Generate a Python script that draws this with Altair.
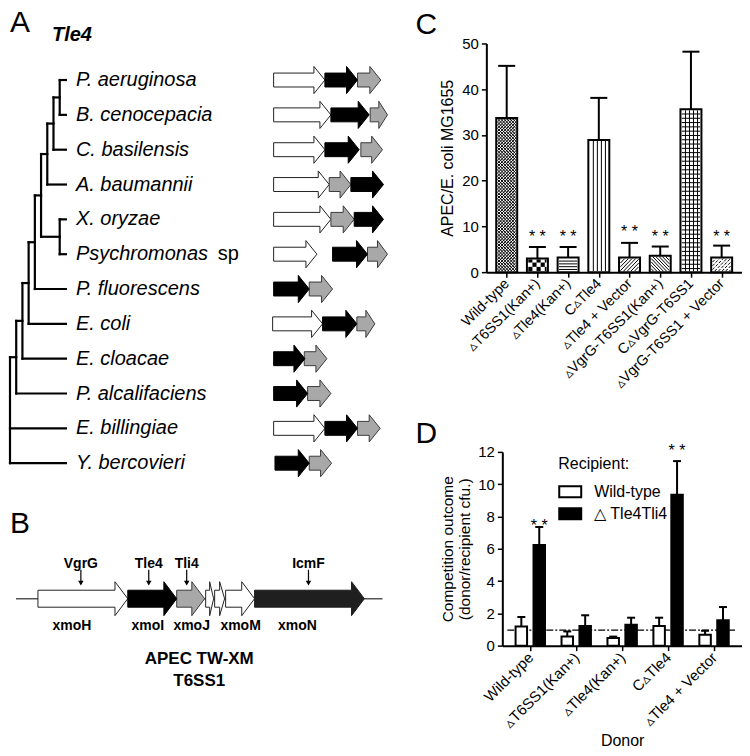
import json
import math
import altair as alt
import pandas as pd

FONT = "Liberation Sans"

# ---------------- Panel A data: Tle4 phylogeny and gene neighbourhoods ----------------
species = ["P. aeruginosa", "B. cenocepacia", "C. basilensis", "A. baumannii", "X. oryzae",
           "Psychromonas sp", "P. fluorescens", "E. coli", "E. cloacae", "P. alcalifaciens",
           "E. billingiae", "Y. bercovieri"]
node_names = ["n8", "n7", "n6", "n9", "n5", "n4", "n3", "n2", "n1", "root"]
node_depths = [8, 7, 6, 8, 5, 4, 3, 2, 1, 0]
node_children = [
    ["P. aeruginosa", "B. cenocepacia"],
    ["n8", "C. basilensis"],
    ["n7", "A. baumannii"],
    ["X. oryzae", "Psychromonas sp"],
    ["n6", "n9"],
    ["n5", "P. fluorescens"],
    ["n4", "E. coli"],
    ["n3", "E. cloacae"],
    ["n2", "P. alcalifaciens"],
    ["n1", "E. billingiae", "Y. bercovieri"],
]
LEAF_DEPTH = 9

arrow_species = (["P. aeruginosa"] * 3 + ["B. cenocepacia"] * 3 + ["C. basilensis"] * 3 +
                 ["A. baumannii"] * 3 + ["X. oryzae"] * 3 + ["Psychromonas sp"] * 3 +
                 ["P. fluorescens"] * 2 + ["E. coli"] * 3 + ["E. cloacae"] * 2 +
                 ["P. alcalifaciens"] * 2 + ["E. billingiae"] * 3 + ["Y. bercovieri"] * 2)
arrow_start = [0, 1540, 2520, 0, 1720, 2900, 0, 1540, 2620, 0, 1670, 2320, 0, 1720, 2420,
               0, 1770, 2820, 0, 1070, -30, 1470, 2500, 0, 920, 0, 1020, 0, 1540, 2520, 40, 1070]
arrow_end = [1540, 2520, 3220, 1720, 2870, 3420, 1540, 2570, 3270, 1670, 2320, 3300, 1720, 2420, 3300,
             1300, 2820, 3420, 1070, 1770, 1470, 2500, 3040, 940, 1600, 1020, 1720, 1540, 2520, 3200, 1070, 1740]
arrow_gene = ["other", "tle4", "tli4", "other", "tle4", "tli4", "other", "tle4", "tli4",
              "other", "tli4", "tle4", "other", "tli4", "tle4", "other", "tle4", "tli4",
              "tle4", "tli4", "other", "tle4", "tli4", "tle4", "tli4", "tle4", "tli4",
              "other", "tle4", "tli4", "tle4", "tli4"]

# ---------------- Panel B data: APEC TW-XM T6SS1 locus ----------------
b_backbone = [0, 12850]
b_start = [770, 3920, 5635, 6650, 6965, 7350, 8365]
b_end = [3920, 5635, 6615, 6930, 7315, 8365, 12215]
b_gene = ["other", "tle4", "tli4", "other", "other", "other", "icmf"]
b_names = ["xmoH", "xmoI", "xmoJ", "xmoM", "xmoN"]
b_name_x = [1960, 4620, 6160, 7875, 9870]
b_markers = ["VgrG", "Tle4", "Tli4", "IcmF"]
b_marker_x = [2275, 4655, 5985, 10255]
b_title = ["APEC TW-XM", "T6SS1"]

# ---------------- Panel C data ----------------
c_strains = ["Wild-type", "\u25b5T6SS1(Kan+)", "\u25b5Tle4(Kan+)", "C\u25b5Tle4", "\u25b5Tle4 + Vector",
             "\u25b5VgrG-T6SS1(Kan+)", "C\u25b5VgrG-T6SS1", "\u25b5VgrG-T6SS1 + Vector"]
c_mean = [33.7, 3.0, 3.2, 28.9, 3.2, 3.6, 35.6, 3.2]
c_err = [11.4, 2.5, 2.3, 9.2, 3.2, 2.0, 12.6, 2.6]
c_star = ["", "* *", "* *", "", "* *", "* *", "", "* *"]
c_star_y = [None, 8.6, 8.6, None, 9.7, 8.6, None, 8.6]
C_YMAX = 50

# ---------------- Panel D data ----------------
d_donors = ["Wild-type", "\u25b5T6SS1(Kan+)", "\u25b5Tle4(Kan+)", "C\u25b5Tle4", "\u25b5Tle4 + Vector"]
d_recipients = ["Wild-type", "\u25b3 Tle4Tli4"]
d_wt_mean = [1.19, 0.57, 0.47, 1.22, 0.67]
d_wt_err = [0.59, 0.31, 0.09, 0.51, 0.25]
d_ko_mean = [6.23, 1.22, 1.29, 9.35, 1.57]
d_ko_err = [1.12, 0.66, 0.44, 2.08, 0.82]
d_star = ["* *", "", "", "* *", ""]
d_star_y = [7.65, None, None, 12.35, None]
d_ref_line = 0.96
D_YMAX = 12

# ---------------- layout / style ----------------
WA, HA = 376, 436
WB, HB = 376, 150
WC, HC = 256, 229
WD, HD = 256, 194
D_X0 = 16

GENE_FILL = {"other": "white", "tle4": "black", "tli4": "#a8a8a8", "icmf": "#1f1f1f"}
GENE_STROKE = {"other": "#222222", "tle4": "black", "tli4": "#3a3a3a", "icmf": "#1f1f1f"}


def panel_title(letter, dx=0, dy=0):
    return alt.TitleParams(text=letter, anchor="start", frame="group", fontSize=30, baseline="top",
                           fontWeight="normal", font=FONT, color="black", dx=dx, dy=dy, offset=0)


def arrow_polygon(start, end, yc, body, head, head_len):
    hl = min(head_len, 0.5 * (end - start))
    hs = end - hl
    return [(start, yc - body), (hs, yc - body), (hs, yc - head), (end, yc),
            (hs, yc + head), (hs, yc + body), (start, yc + body)]


def gene_layers(df, xscale, yscale):
    out = []
    for g in ["other", "tli4", "tle4", "icmf"]:
        sub = df[df["gene"] == g]
        if len(sub) == 0:
            continue
        out.append(alt.Chart(sub).mark_line(
            interpolate="linear-closed", fill=GENE_FILL[g], stroke=GENE_STROKE[g],
            strokeWidth=1, strokeJoin="miter").encode(
            x=alt.X("x:Q", scale=xscale, axis=None),
            y=alt.Y("y:Q", scale=yscale, axis=None),
            detail="id:N", order="v:Q"))
    return out


# ================= Panel A =================
row_of = {s: i for i, s in enumerate(species)}
depth_of = {s: LEAF_DEPTH for s in species}
y_of = dict(row_of)
for n, d, ch in zip(node_names, node_depths, node_children):
    depth_of[n] = d
    ys = [y_of[c] for c in ch]
    y_of[n] = (min(ys) + max(ys)) / 2.0
segs = []
for n, d, ch in zip(node_names, node_depths, node_children):
    ys = [y_of[c] for c in ch]
    segs.append({"x": d, "x2": d, "y": min(ys), "y2": max(ys)})
    for c in ch:
        segs.append({"x": d, "x2": depth_of[c], "y": y_of[c], "y2": y_of[c]})
tree_df = pd.DataFrame(segs)

XT = alt.Scale(domain=[0, LEAF_DEPTH], range=[0, 56], nice=False, zero=False)
YA = alt.Scale(domain=[-1.05, 11.45], reverse=True, nice=False, zero=False)
XG = alt.Scale(domain=[0, 3300], range=[264, 374], nice=False, zero=False)

tree = alt.Chart(tree_df).mark_rule(strokeWidth=2.2, color="black", strokeCap="square").encode(
    x=alt.X("x:Q", scale=XT, axis=None), x2="x2:Q",
    y=alt.Y("y:Q", scale=YA, axis=None), y2="y2:Q")

lab_df = pd.DataFrame({
    "name": [s[:-3] if s.endswith(" sp") else s for s in species],
    "row": list(range(len(species))),
    "depth": [LEAF_DEPTH] * len(species)})
leaf_labels = alt.Chart(lab_df).mark_text(
    align="left", baseline="middle", dx=10, fontSize=20, fontStyle="italic", font=FONT, color="black").encode(
    x=alt.X("depth:Q", scale=XT, axis=None), y=alt.Y("row:Q", scale=YA, axis=None), text="name:N")

sp_df = pd.DataFrame({
    "t": ["sp" for s in species if s.endswith(" sp")],
    "row": [row_of[s] for s in species if s.endswith(" sp")],
    "depth": [LEAF_DEPTH for s in species if s.endswith(" sp")]})
sp_labels = alt.Chart(sp_df).mark_text(
    align="left", baseline="middle", dx=152, fontSize=20, font=FONT, color="black").encode(
    x=alt.X("depth:Q", scale=XT, axis=None), y=alt.Y("row:Q", scale=YA, axis=None), text="t:N")

head_df = pd.DataFrame({"t": ["Tle4"]})
tle4_head = alt.Chart(head_df).mark_text(
    align="left", baseline="alphabetic", fontSize=20, fontWeight="bold", fontStyle="italic",
    font=FONT, color="black").encode(x=alt.value(42), y=alt.value(-2), text="t:N")

poly_rows = []
for k, (sp, a, b, g) in enumerate(zip(arrow_species, arrow_start, arrow_end, arrow_gene)):
    for v, (px, py) in enumerate(arrow_polygon(a, b, row_of[sp], 0.2, 0.39, 330)):
        poly_rows.append({"id": k, "v": v, "x": px, "y": py, "gene": g})
polyA = pd.DataFrame(poly_rows)

A = alt.layer(tree, leaf_labels, sp_labels, tle4_head, *gene_layers(polyA, XG, YA)).resolve_scale(
    x="independent").properties(width=WA, height=HA, title=panel_title("A", dy=13))

# ================= Panel B =================
LABEL_Y, ARROW_TOP, ARROW_BOT, LINE_Y, NAME_Y, TITLE_Y1, TITLE_Y2 = 15, 21, 37, 50, 77, 110, 132
XB = alt.Scale(domain=b_backbone, range=[6, 373], nice=False, zero=False)
YB = alt.Scale(domain=[0, HB], reverse=True, nice=False, zero=False)

backbone = alt.Chart(pd.DataFrame({"x": [b_backbone[0]], "x2": [b_backbone[1]], "y": [LINE_Y]})).mark_rule(
    strokeWidth=1.5, color="#555555").encode(
    x=alt.X("x:Q", scale=XB, axis=None), x2="x2:Q", y=alt.Y("y:Q", scale=YB, axis=None))

poly_rows = []
for k, (a, b, g) in enumerate(zip(b_start, b_end, b_gene)):
    for v, (px, py) in enumerate(arrow_polygon(a, b, LINE_Y, 8.5, 17, 450)):
        poly_rows.append({"id": k, "v": v, "x": px, "y": py, "gene": g})
polyB = pd.DataFrame(poly_rows)

mk_df = pd.DataFrame({"t": b_markers, "x": b_marker_x, "y": [LABEL_Y] * len(b_markers),
                      "ya": [ARROW_TOP] * len(b_markers), "yb": [ARROW_BOT - 4] * len(b_markers),
                      "yt": [ARROW_BOT - 2.5] * len(b_markers)})
mk_text = alt.Chart(mk_df).mark_text(fontSize=14, fontWeight="bold", font=FONT, baseline="middle", color="black").encode(
    x=alt.X("x:Q", scale=XB, axis=None), y=alt.Y("y:Q", scale=YB, axis=None), text="t:N")
mk_stem = alt.Chart(mk_df).mark_rule(strokeWidth=1.2, color="black").encode(
    x=alt.X("x:Q", scale=XB, axis=None), y=alt.Y("ya:Q", scale=YB, axis=None), y2="yb:Q")
mk_head = alt.Chart(mk_df).mark_point(shape="triangle-down", filled=True, size=30, color="black", opacity=1).encode(
    x=alt.X("x:Q", scale=XB, axis=None), y=alt.Y("yt:Q", scale=YB, axis=None))

nm_df = pd.DataFrame({"t": b_names, "x": b_name_x, "y": [NAME_Y] * len(b_names)})
nm_text = alt.Chart(nm_df).mark_text(fontSize=14, fontWeight="bold", font=FONT, baseline="middle", color="black").encode(
    x=alt.X("x:Q", scale=XB, axis=None), y=alt.Y("y:Q", scale=YB, axis=None), text="t:N")

tt_df = pd.DataFrame({"t": b_title, "x": [sum(b_backbone) / 2] * 2, "y": [TITLE_Y1, TITLE_Y2]})
tt_text = alt.Chart(tt_df).mark_text(fontSize=17, fontWeight="bold", font=FONT, baseline="middle", color="black").encode(
    x=alt.X("x:Q", scale=XB, axis=None), y=alt.Y("y:Q", scale=YB, axis=None), text="t:N")

B = alt.layer(backbone, *gene_layers(polyB, XB, YB), mk_stem, mk_head, mk_text, nm_text, tt_text).properties(
    width=WB, height=HB, title=panel_title("B", dy=-10))

# ================= Panel C =================
C_PATTERNS = ["dense", "checker", "hlines", "vlines", "fdiag", "bdiag", "grid", "fdiag_dash"]
nC = len(c_strains)
pxx_c = WC / nC
pxy_c = HC / C_YMAX
BW_C = 21


def hatch(kind, x0, x1, y0, y1):
    lines, cells = [], []

    def hl(s):
        y = y0 + s * 0.6
        while y < y1 - 0.3:
            lines.append((x0, y, x1, y))
            y += s

    def vl(s):
        x = x0 + s * 0.9
        while x < x1 - 0.5:
            lines.append((x, y0, x, y1))
            x += s

    def fd(s):
        d = math.floor((x0 - y1) / s) * s
        while d < x1 - y0:
            lo, hi = max(x0, y0 + d), min(x1, y1 + d)
            if hi - lo > 0.3:
                lines.append((lo, lo - d, hi, hi - d))
            d += s

    def bd(s):
        d = math.floor((x0 + y0) / s) * s
        while d < x1 + y1:
            lo, hi = max(x0, d - y1), min(x1, d - y0)
            if hi - lo > 0.3:
                lines.append((lo, d - lo, hi, d - hi))
            d += s

    if kind == "dense":
        fd(3.2)
        bd(3.2)
    elif kind == "hlines":
        hl(2.8)
    elif kind == "vlines":
        vl(4.2)
    elif kind in ("fdiag", "fdiag_dash"):
        fd(3.8)
    elif kind == "bdiag":
        bd(3.4)
    elif kind == "grid":
        vl(4.2)
        hl(4.3)
    elif kind == "checker":
        q = 4.3
        r = 0
        while y0 + r * q < y1:
            c = 0
            while x0 + c * q < x1:
                if (r + c) % 2 == 0:
                    cells.append((x0 + c * q, y0 + r * q, min(x1, x0 + (c + 1) * q), min(y1, y0 + (r + 1) * q)))
                c += 1
            r += 1
    return lines, cells


h_rows, h_cells = [], []
for i, (m, kind) in enumerate(zip(c_mean, C_PATTERNS)):
    cx = (i + 0.5) * pxx_c
    x0, x1 = cx - BW_C / 2 + 1, cx + BW_C / 2 - 1
    y0, y1 = 1, m * pxy_c - 1
    ls, cs = hatch(kind, x0, x1, y0, y1)
    for (a, b, c, d) in ls:
        h_rows.append({"x": a / pxx_c, "y": b / pxy_c, "x2": c / pxx_c, "y2": d / pxy_c,
                       "dash": kind == "fdiag_dash"})
    for (a, b, c, d) in cs:
        h_cells.append({"x": a / pxx_c, "y": b / pxy_c, "x2": c / pxx_c, "y2": d / pxy_c})
hatch_df = pd.DataFrame(h_rows)
cell_df = pd.DataFrame(h_cells)

c_x = [i + 0.5 for i in range(nC)]
c_df = pd.DataFrame({"strain": c_strains, "x": c_x, "mean": c_mean,
                     "top": [m + e for m, e in zip(c_mean, c_err)]})
FS_STAR = 16
star_rows = [{"x": x, "t": t, "y": sy - 0.58 * FS_STAR / pxy_c}
             for x, t, sy in zip(c_x, c_star, c_star_y) if t]
c_star_df = pd.DataFrame(star_rows)

XC = alt.Scale(domain=[0, nC], nice=False, zero=False)
YC = alt.Scale(domain=[0, C_YMAX], nice=False)
labels_c = json.dumps(c_strains, ensure_ascii=False)
AX_XC = alt.Axis(values=c_x, labelExpr=labels_c + "[floor(datum.value)]", title=None, labelAngle=315,
                 labelAlign="right", labelBaseline="middle", labelFontSize=14.5, grid=False, labelPadding=4,
                 labelOverlap=False, labelBound=False)
AX_YC = alt.Axis(values=[0, 10, 20, 30, 40, 50], title="APEC/E. coli MG1655", grid=False,
                 titlePadding=6, labelOverlap=False, titleFontSize=16)

c_fill = alt.Chart(c_df).mark_bar(size=BW_C, fill="white").encode(
    x=alt.X("x:Q", scale=XC, axis=AX_XC), y=alt.Y("mean:Q", scale=YC, axis=AX_YC))
c_hatch_solid = alt.Chart(hatch_df[~hatch_df["dash"]]).mark_rule(strokeWidth=1, color="black").encode(
    x=alt.X("x:Q", scale=XC, axis=AX_XC), x2="x2:Q", y=alt.Y("y:Q", scale=YC, axis=AX_YC), y2="y2:Q")
c_hatch_dash = alt.Chart(hatch_df[hatch_df["dash"]]).mark_rule(strokeWidth=1, color="black", strokeDash=[3, 1.5]).encode(
    x=alt.X("x:Q", scale=XC, axis=AX_XC), x2="x2:Q", y=alt.Y("y:Q", scale=YC, axis=AX_YC), y2="y2:Q")
c_cells = alt.Chart(cell_df).mark_rect(color="black").encode(
    x=alt.X("x:Q", scale=XC, axis=AX_XC), x2="x2:Q", y=alt.Y("y:Q", scale=YC, axis=AX_YC), y2="y2:Q")
c_outline = alt.Chart(c_df).mark_bar(size=BW_C, fill="transparent", stroke="black", strokeWidth=2).encode(
    x=alt.X("x:Q", scale=XC, axis=AX_XC), y=alt.Y("mean:Q", scale=YC, axis=AX_YC))
c_stem = alt.Chart(c_df).mark_rule(strokeWidth=2, color="black").encode(
    x=alt.X("x:Q", scale=XC, axis=AX_XC), y=alt.Y("mean:Q", scale=YC, axis=AX_YC), y2="top:Q")
c_cap = alt.Chart(c_df).mark_tick(orient="horizontal", size=17, thickness=2, color="black", opacity=1).encode(
    x=alt.X("x:Q", scale=XC, axis=AX_XC), y=alt.Y("top:Q", scale=YC, axis=AX_YC))
c_stars = alt.Chart(c_star_df).mark_text(fontSize=FS_STAR, font=FONT, baseline="alphabetic", color="black").encode(
    x=alt.X("x:Q", scale=XC, axis=AX_XC), y=alt.Y("y:Q", scale=YC, axis=AX_YC), text="t:N")

C = alt.layer(c_fill, c_hatch_solid, c_hatch_dash, c_cells, c_outline, c_stem, c_cap, c_stars).properties(
    width=WC, height=HC, title=panel_title("C", dx=-71, dy=4))

# ================= Panel D =================
nD = len(d_donors)
pxy_d = HD / D_YMAX
OFF = 0.195
d_rows = []
for i in range(nD):
    d_rows.append({"x": i + 0.5 - OFF, "mean": d_wt_mean[i], "top": d_wt_mean[i] + d_wt_err[i],
                   "recipient": d_recipients[0]})
    d_rows.append({"x": i + 0.5 + OFF, "mean": d_ko_mean[i], "top": d_ko_mean[i] + d_ko_err[i],
                   "recipient": d_recipients[1]})
d_df = pd.DataFrame(d_rows)
d_star_df = pd.DataFrame([{"x": i + 0.5 + OFF, "t": t, "y": sy - 0.58 * FS_STAR / pxy_d}
                          for i, (t, sy) in enumerate(zip(d_star, d_star_y)) if t])
ref_df = pd.DataFrame({"x": [0], "x2": [nD], "y": [d_ref_line]})

d_x = [i + 0.5 for i in range(nD)]
XD = alt.Scale(domain=[0, nD], range=[D_X0, WD], nice=False, zero=False)
YD = alt.Scale(domain=[0, D_YMAX], nice=False)
labels_d = json.dumps(d_donors, ensure_ascii=False)
AX_XD = alt.Axis(values=d_x, labelExpr=labels_d + "[floor(datum.value)]", title="Donor", labelAngle=315,
                 labelAlign="right", labelBaseline="middle", labelFontSize=15, grid=False, labelPadding=4,
                 titleFontSize=16, titlePadding=2, labelOverlap=False, labelBound=False)
AX_YD = alt.Axis(values=[0, 2, 4, 6, 8, 10, 12], title=["Competition outcome", "(donor/recipient cfu.)"],
                 grid=False, offset=-D_X0, titlePadding=5, titleFontSize=15.5, labelOverlap=False)

d_bars = alt.Chart(d_df).mark_bar(size=11.5, stroke="black", strokeWidth=2).encode(
    x=alt.X("x:Q", scale=XD, axis=AX_XD), y=alt.Y("mean:Q", scale=YD, axis=AX_YD),
    fill=alt.Fill("recipient:N", scale=alt.Scale(domain=d_recipients, range=["white", "black"]),
                  legend=alt.Legend(title="Recipient:", orient="none", legendX=72, legendY=4, padding=0,
                                    titleFontSize=16, titleFontWeight="normal", titleFont=FONT,
                                    titleColor="black", labelFontSize=16, labelFont=FONT, labelColor="black",
                                    symbolType="M-1,-0.5L1,-0.5L1,0.5L-1,0.5Z", symbolSize=484,
                                    symbolStrokeColor="black", symbolStrokeWidth=2, labelOffset=12,
                                    rowPadding=0, titlePadding=8)))
d_stem = alt.Chart(d_df).mark_rule(strokeWidth=2, color="black").encode(
    x=alt.X("x:Q", scale=XD, axis=AX_XD), y=alt.Y("mean:Q", scale=YD, axis=AX_YD), y2="top:Q")
d_cap = alt.Chart(d_df).mark_tick(orient="horizontal", size=8, thickness=2, color="black", opacity=1).encode(
    x=alt.X("x:Q", scale=XD, axis=AX_XD), y=alt.Y("top:Q", scale=YD, axis=AX_YD))
d_ref = alt.Chart(ref_df).mark_rule(strokeWidth=1.2, color="black", strokeDash=[7, 2, 2, 2]).encode(
    x=alt.X("x:Q", scale=XD, axis=AX_XD), x2="x2:Q", y=alt.Y("y:Q", scale=YD, axis=AX_YD))
d_stars = alt.Chart(d_star_df).mark_text(fontSize=FS_STAR, font=FONT, baseline="alphabetic", color="black").encode(
    x=alt.X("x:Q", scale=XD, axis=AX_XD), y=alt.Y("y:Q", scale=YD, axis=AX_YD), text="t:N")

D = alt.layer(d_ref, d_stem, d_cap, d_bars, d_stars).properties(
    width=WD, height=HD, title=panel_title("D", dx=-71, dy=6))

# ================= assemble =================
left = alt.vconcat(A, B, spacing=70, bounds="flush")
right = alt.vconcat(C, D, spacing=180, bounds="flush").resolve_scale(fill="independent").resolve_legend(
    fill="independent")
chart = alt.hconcat(left, right, spacing=26).resolve_scale(fill="independent").resolve_legend(
    fill="independent").properties(padding=0).configure_view(
    stroke=None).configure_axis(
    domainColor="black", domainWidth=2, tickColor="black", tickWidth=1.5, tickSize=5,
    labelColor="black", titleColor="black", labelFont=FONT, titleFont=FONT,
    labelFontSize=15, titleFontSize=15, titleFontWeight="normal", labelPadding=3)

chart.save("out.html", embed_options={"renderer": "svg", "actions": False})
